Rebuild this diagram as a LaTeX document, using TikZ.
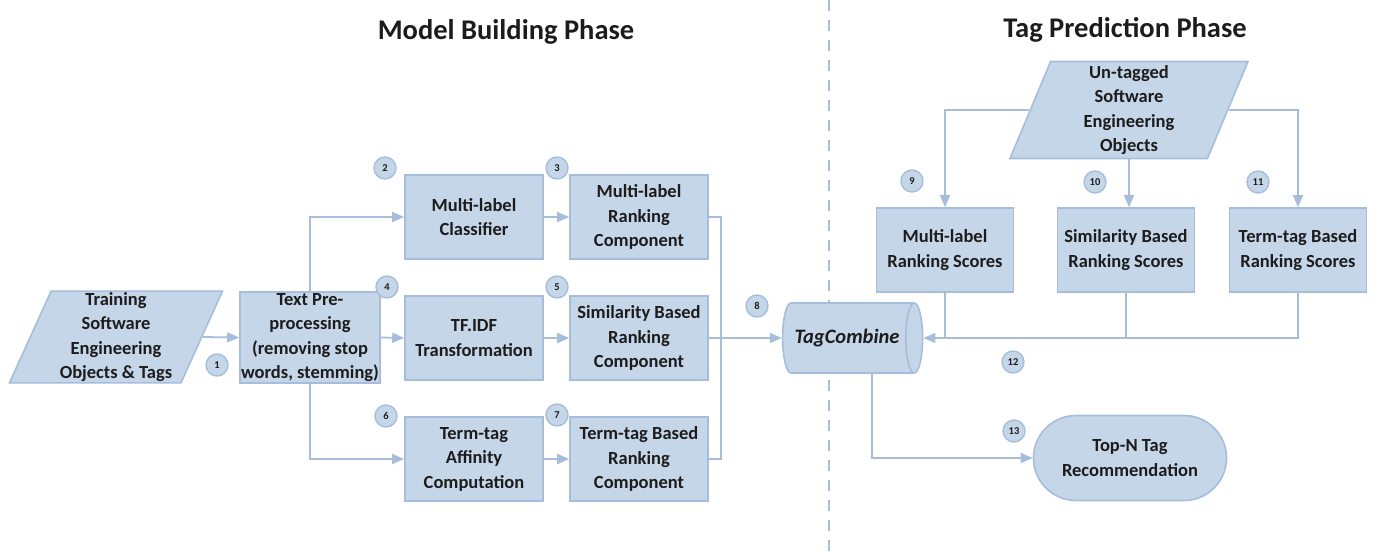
\documentclass[tikz,border=0pt]{standalone}
\usepackage{fontspec}
\setmainfont{Carlito}
\usetikzlibrary{shapes.geometric,shapes.misc,arrows.meta}
\definecolor{boxC}{RGB}{198,214,233}
\definecolor{lineC}{RGB}{166,189,219}
\definecolor{txtC}{RGB}{28,28,28}
\tikzset{
    BX1/.style ={rectangle,minimum width=138pt,minimum height=84pt,draw=lineC,fill=boxC,line width=1.6pt,
        align=center,inner sep=1pt,text=txtC,font=\bfseries\fontsize{18.5}{24.5}\selectfont},
    PG1/.style ={BX1,trapezium,trapezium stretches body,trapezium left angle=65.6,trapezium right angle=114.4,
        minimum width=213pt,minimum height=86pt},
    PG2/.style ={BX1,trapezium,trapezium stretches body,trapezium left angle=66.1,trapezium right angle=113.9,
        minimum width=238pt,minimum height=97pt},
    CY1/.style ={BX1,cylinder,aspect=0.85,minimum width=70pt,minimum height=140pt,
        font=\bfseries\itshape\fontsize{20.5}{24}\selectfont},
    RR1/.style ={BX1,rounded rectangle,minimum width=195pt,minimum height=85pt},
    NB/.style ={circle,minimum size=22pt,inner sep=0pt,draw=lineC,fill=boxC,line width=1.4pt,
        text=txtC,font=\bfseries\fontsize{10.5}{11}\selectfont},
    TT/.style ={text=txtC,font=\bfseries\fontsize{28.5}{32}\selectfont},
    LN/.style ={draw=lineC,line width=1.8pt},
    AR/.style ={LN,-{Triangle[length=12pt,width=10pt]}}
}
\begin{document}
\begin{tikzpicture}[x=1pt,y=-1pt]
        \useasboundingbox (0,0) rectangle (1379,555);
        \coordinate (dtop) at (829,0);
        \coordinate (dbot) at (829,555);
        \draw[draw=lineC,line width=1.6pt,dash pattern=on 11pt off 9pt] (dtop)--(dbot);
        \node[TT] (mbp) at (506,32){Model Building Phase};
        \node[TT] (tpp) at (1125,30){Tag Prediction Phase};
        \node[PG1] (train) at (116,337){Training\\Software\\Engineering\\Objects \& Tags};
        \node[BX1,minimum width=140pt,minimum height=89pt] (pre) at (310,337.5){Text Pre-\\processing\\(removing stop\\words, stemming)};
        \node[BX1] (mlc) at (474,217){Multi-label\\Classifier};
        \node[BX1] (mlr) at (639,217){Multi-label\\Ranking\\Component};
        \node[BX1] (tfi) at (474,338){TF.IDF\\Transformation};
        \node[BX1] (sbr) at (639,338){Similarity Based\\Ranking\\Component};
        \node[BX1] (tta) at (474,459){Term-tag\\Affinity\\Computation};
        \node[BX1] (ttr) at (639,459){Term-tag Based\\Ranking\\Component};
        \coordinate (jn) at (721,338);
        \node[CY1] (tc) at (847,338){TagCombine};
        \node[PG2] (unt) at (1129,110){Un-tagged\\Software\\Engineering\\Objects};
        \node[BX1,minimum width=137pt] (mls) at (945,250){Multi-label\\Ranking Scores};
        \node[BX1,minimum width=137pt] (sbs) at (1126,250){Similarity Based\\Ranking Scores};
        \node[BX1,minimum width=137pt] (tts) at (1298,250){Term-tag Based\\Ranking Scores};
        \node[RR1] (top) at (1130,458){Top-N Tag\\Recommendation};
        \draw[AR] (train.east)--(pre.west);
        \draw[AR] (pre.north)|-(mlc.west);
        \draw[AR] (pre.east)--(tfi.west);
        \draw[AR] (pre.south)|-(tta.west);
        \draw[AR] (mlc)--(mlr);
        \draw[AR] (tfi)--(sbr);
        \draw[AR] (tta)--(ttr);
        \draw[LN] (mlr.east)-|(jn)|-(ttr.east);
        \draw[AR] (sbr.east)--(tc.west);
        \draw[AR] (unt.west)-|(mls.north);
        \draw[AR] (unt.south)--(unt.south|-sbs.north);
        \draw[AR] (unt.east)-|(tts.north);
        \draw[AR] (tts.south)|-(tc.east);
        \draw[LN] (mls.south)--(mls.south|-tc.east);
        \draw[LN] (sbs.south)--(sbs.south|-tc.east);
        \draw[AR] ([xshift=25pt]tc.south)|-(top.west);
        \foreach \n/\x/\y in {1/217/365,2/385/168,3/557/168,4/387/287,5/557/287,6/386/416,7/557/415,
            8/757/306,9/912/181,10/1095/182,11/1258/182,12/1013/362,13/1014/431}
            \node[NB] (nb\n) at (\x,\y){\n};
    \end{tikzpicture}
\end{document}
